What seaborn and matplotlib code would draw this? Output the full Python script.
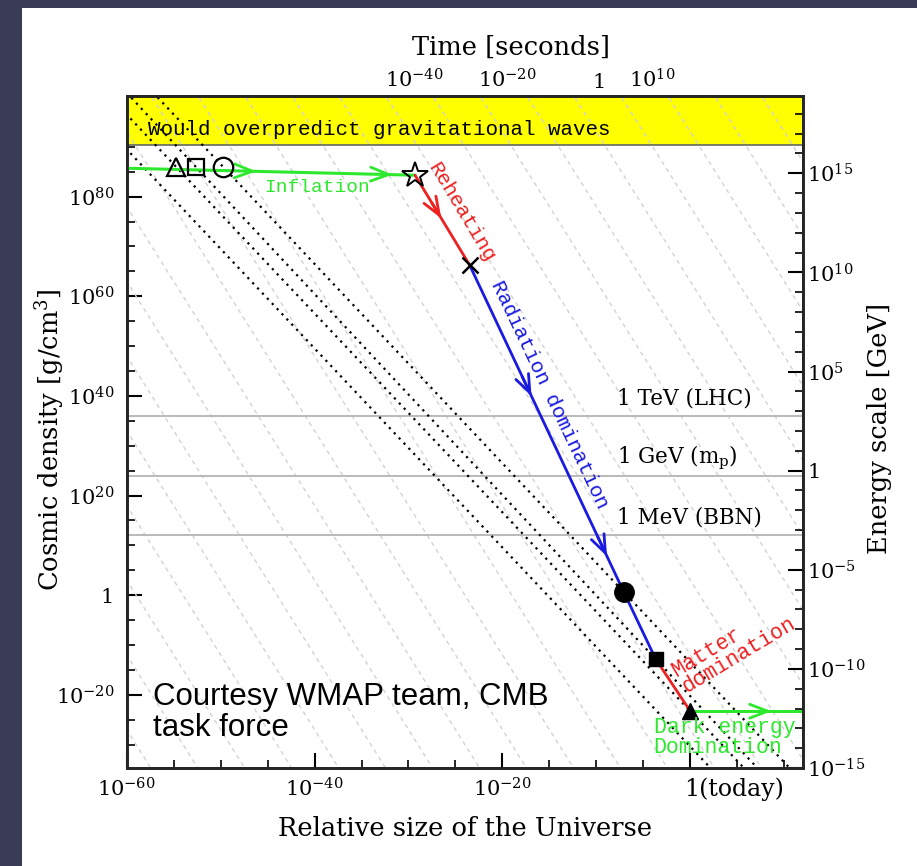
import numpy as np
import matplotlib
matplotlib.use("Agg")
import matplotlib.pyplot as plt
import seaborn as sns
from matplotlib.patches import Rectangle
from matplotlib.ticker import MultipleLocator
import matplotlib.transforms as mtransforms

# ---------------- data (log10 values) ----------------
# x: log10(relative size of the Universe), y: log10(cosmic density [g/cm^3])
inflation_x = [-60.0, -29.3]
inflation_y = [85.7, 84.3]
reheating_x = [-29.3, -23.5]
reheating_y = [84.3, 66.3]
radiation_x = [-23.5, -7.07, -3.68]
radiation_y = [66.3, 0.6, -12.85]
matter_x = [-3.68, 0.0]
matter_y = [-12.85, -23.3]
darkenergy_x = [0.0, 12.0]
darkenergy_y = [-23.3, -23.3]

open_marker_x = [-54.7, -52.6, -49.7]      # triangle, square, circle
open_marker_y = [85.9, 85.9, 85.9]
star_x, star_y = [-29.3], [84.3]
cross_x, cross_y = [-23.5], [66.3]
filled_marker_x = [-7.07, -3.68, 0.0]      # circle, square, triangle
filled_marker_y = [0.6, -12.85, -23.3]

# black dotted tracks, each through two points
dotted_x0 = [-60.0, -54.7, -52.6, -49.7]
dotted_y0 = [89.5, 85.9, 85.9, 85.9]
dotted_x1 = [2.3, 0.0, -3.68, -7.07]
dotted_y1 = [-35.0, -23.3, -12.85, 0.6]

# light grey background guides: log rho = offset - 3 log a
guide_offsets = [-222, -207, -192, -177, -162, -147, -132, -117, -102, -87, -72,
                 -57, -42, -27, -12, 3, 18, 33, 48, 63, 78, 93, 108, 123, 138]
guide_slope = -3

energy_line_rho = [36, 24, 12]
energy_labels = ["1 TeV (LHC)", "1 GeV (m$_{\\rm p}$)", "1 MeV (BBN)"]

gw_limit = 90.3

bottom_ticks = [-60, -40, -20, 0]
bottom_labels = ["$10^{-60}$", "$10^{-40}$", "$10^{-20}$", "1(today)"]
left_ticks = [-20, 0, 20, 40, 60, 80]
left_labels = ["$10^{-20}$", "1", "$10^{20}$", "$10^{40}$", "$10^{60}$", "$10^{80}$"]
right_ticks = [-15, -10, -5, 0, 5, 10, 15]
right_labels = ["$10^{-15}$", "$10^{-10}$", "$10^{-5}$", "1", "$10^{5}$", "$10^{10}$", "$10^{15}$"]
time_ticks = [-29.4, -19.5, -9.7, -4.1]
time_labels = ["$10^{-40}$", "$10^{-20}$", "1", "$10^{10}$"]

GREEN = "#2ee82e"
RED = "#ee2020"
BLUE = "#1a1ae0"

# ---------------- figure ----------------
sns.set_theme(style="white")
plt.rcParams["font.family"] = ["DejaVu Serif", "DejaVu Sans"]
plt.rcParams["mathtext.fontset"] = "dejavuserif"
plt.rcParams["text.color"] = "black"
plt.rcParams["axes.labelcolor"] = "black"
plt.rcParams["xtick.color"] = "black"
plt.rcParams["ytick.color"] = "black"

W, H = 917, 866
fig = plt.figure(figsize=(W / 100, H / 100), dpi=100)
fig.patch.set_facecolor("#3a3c57")
fig.patches.append(Rectangle((22 / W, 0), 1, (H - 8) / H, transform=fig.transFigure,
                             facecolor="white", edgecolor="none", zorder=-1))

L, R, T, B = 126.7, 803, 96, 768
ax = fig.add_axes([L / W, 1 - B / H, (R - L) / W, (B - T) / H])
ax.set_facecolor("white")
ax.set_xlim(-60, 12)
ax.set_ylim(-34.7, 100.2)

# yellow excluded band
ax.axhspan(gw_limit, 101, color="#ffff00", zorder=1, lw=0)
ax.axhline(gw_limit, color="#666666", lw=1.2, zorder=1.2)

# grey guides
gx = np.array([-70.0, 20.0])
for c in guide_offsets:
    sns.lineplot(x=gx, y=c + guide_slope * gx, color="#d2d2d2", lw=1.0,
                 linestyle=(0, (3, 3)), ax=ax, zorder=1.5)

# energy reference lines
for rho, lab in zip(energy_line_rho, energy_labels):
    ax.axhline(rho, color="#b4b4b4", lw=1.3, zorder=1.6)
    ax.text(-7.8, rho + 3.5, lab, fontsize=15.5, ha="left", va="center", zorder=3)

# black dotted tracks
for x0, y0, x1, y1 in zip(dotted_x0, dotted_y0, dotted_x1, dotted_y1):
    s = (y1 - y0) / (x1 - x0)
    xs = np.array([-70.0, 20.0])
    sns.lineplot(x=xs, y=y0 + s * (xs - x0), color="black", lw=1.6,
                 linestyle=(0, (1, 2.2)), ax=ax, zorder=2)

# evolution
sns.lineplot(x=inflation_x, y=inflation_y, color=GREEN, lw=2.2, ax=ax, zorder=4)
sns.lineplot(x=reheating_x, y=reheating_y, color=RED, lw=2.0, ax=ax, zorder=4)
sns.lineplot(x=radiation_x, y=radiation_y, color=BLUE, lw=2.0, ax=ax, zorder=4)
sns.lineplot(x=matter_x, y=matter_y, color=RED, lw=2.0, ax=ax, zorder=4)
sns.lineplot(x=darkenergy_x, y=darkenergy_y, color=GREEN, lw=2.2, ax=ax, zorder=4)


def arrow_on(xs, ys, tip_x, color):
    tip_y = np.interp(tip_x, xs, ys)
    tail_x = tip_x - 1.0
    tail_y = np.interp(tail_x, xs, ys)
    ax.annotate("", xy=(tip_x, tip_y), xytext=(tail_x, tail_y),
                arrowprops=dict(arrowstyle="->,head_length=1.3,head_width=0.5",
                                color=color, lw=2.0, shrinkA=0, shrinkB=0,
                                mutation_scale=10), zorder=5)


arrow_on(inflation_x, inflation_y, -46.2, GREEN)
arrow_on(inflation_x, inflation_y, -31.7, GREEN)
arrow_on(reheating_x, reheating_y, -26.5, RED)
arrow_on(radiation_x, radiation_y, -16.9, BLUE)
arrow_on(radiation_x, radiation_y, -8.86, BLUE)
arrow_on(darkenergy_x, darkenergy_y, 8.65, GREEN)

# markers
mk = dict(color="black", linestyle="none", zorder=6)
ax.plot(open_marker_x[0], open_marker_y[0], marker="^", markersize=13, mfc="none", mew=1.6, **mk)
ax.plot(open_marker_x[1], open_marker_y[1], marker="s", markersize=11, mfc="none", mew=1.6, **mk)
ax.plot(open_marker_x[2], open_marker_y[2], marker="o", markersize=14, mfc="none", mew=1.6, **mk)
ax.plot(star_x, star_y, marker="*", markersize=19, mfc="none", mew=1.4, **mk)
ax.plot(cross_x, cross_y, marker="x", markersize=12, mew=1.8, **mk)
ax.plot(filled_marker_x[0], filled_marker_y[0], marker="o", markersize=14, mfc="black", **mk)
ax.plot(filled_marker_x[1], filled_marker_y[1], marker="s", markersize=10, mfc="black", **mk)
ax.plot(filled_marker_x[2], filled_marker_y[2], marker="^", markersize=11, mfc="black", **mk)

# in-plot labels
mono = ["Liberation Mono", "DejaVu Sans Mono"]
ax.text(-57.7, 93.4, "Would overpredict gravitational waves", family=mono, fontsize=15,
        ha="left", va="center", zorder=7)
ax.text(-39.7, 81.9, "Inflation", family=mono, fontsize=14, color=GREEN,
        ha="center", va="center", zorder=7)
ax.text(-24.4, 76.9, "Reheating", family=mono, fontsize=15, color=RED, rotation=-59,
        ha="center", va="center", rotation_mode="anchor", zorder=7)
ax.text(-15.0, 40.2, "Radiation domination", family=mono, fontsize=15, color=BLUE,
        rotation=-64.6, ha="center", va="center", rotation_mode="anchor", zorder=7)
ax.text(-1.2, -17.1, "Matter\ndomination", family=mono, fontsize=15.5, color=RED,
        rotation=31, ha="left", va="center", rotation_mode="anchor",
        multialignment="left", linespacing=0.9, zorder=7)
ax.text(-3.89, -28.5, "Dark energy\nDomination", family=mono, fontsize=15.5, color=GREEN,
        ha="left", va="center", linespacing=0.95, zorder=7)
ax.text(-57.2, -23.6, "Courtesy WMAP team, CMB\ntask force",
        family=["Liberation Sans", "DejaVu Sans"], fontsize=22.5, ha="left", va="center",
        linespacing=1.03, zorder=7, color="black")

# axes styling
for sp in ax.spines.values():
    sp.set_linewidth(1.8)
    sp.set_color("black")
ax.set_xticks(bottom_ticks)
ax.set_xticklabels(bottom_labels)
ax.set_yticks(left_ticks)
ax.set_yticklabels(left_labels)
ax.xaxis.set_minor_locator(MultipleLocator(5))
ax.yaxis.set_minor_locator(MultipleLocator(5))
ax.tick_params(which="major", direction="in", length=11, width=1.5, labelsize=15,
               bottom=True, left=True, top=False, right=False, colors="black")
ax.tick_params(which="minor", direction="in", length=6, width=1.2,
               bottom=True, left=True, top=False, right=False)
ax.tick_params(axis="x", which="major", pad=7)
ax.tick_params(axis="y", which="major", pad=9)
ax.set_xlabel("")
ax.set_ylabel("")
lbl = ax.get_xticklabels()[-1]
lbl.set_ha("left")
lbl.set_fontsize(17)
lbl.set_transform(lbl.get_transform() + mtransforms.ScaledTranslation(-6 / 100, 0, fig.dpi_scale_trans))

# right energy axis
axr = ax.twinx()
axr.set_ylim(-15.0, 18.9)
axr.set_yticks(right_ticks)
axr.set_yticklabels(right_labels)
axr.yaxis.set_minor_locator(MultipleLocator(1))
axr.tick_params(axis="y", which="major", direction="in", length=11, width=1.5,
                labelsize=15, right=True, left=False, pad=3, colors="black")
axr.tick_params(axis="y", which="minor", direction="in", length=6, width=1.2,
                right=True, left=False)
for sp in axr.spines.values():
    sp.set_linewidth(1.8)
axr.grid(False)

# top time axis (labels only)
axt = ax.twiny()
axt.set_xlim(-60, 12)
axt.set_xticks(time_ticks)
axt.set_xticklabels(time_labels)
axt.tick_params(axis="x", which="both", length=0, top=True, labeltop=True,
                bottom=False, labelbottom=False, labelsize=15, pad=3, colors="black")
axt.grid(False)

# axis titles
fig.text(511 / W, 1 - 47 / H, "Time [seconds]", fontsize=18.5, ha="center", va="center")
fig.text(465 / W, 1 - 828 / H, "Relative size of the Universe", fontsize=18.5,
         ha="center", va="center")
fig.text(50 / W, 1 - 440 / H, "Cosmic density [g/cm$^3$]", fontsize=18.5, rotation=90,
         ha="center", va="center")
fig.text(880 / W, 1 - 428 / H, "Energy scale [GeV]", fontsize=18.5, rotation=90,
         ha="center", va="center")

fig.savefig("out.png", dpi=100, facecolor=fig.get_facecolor())
